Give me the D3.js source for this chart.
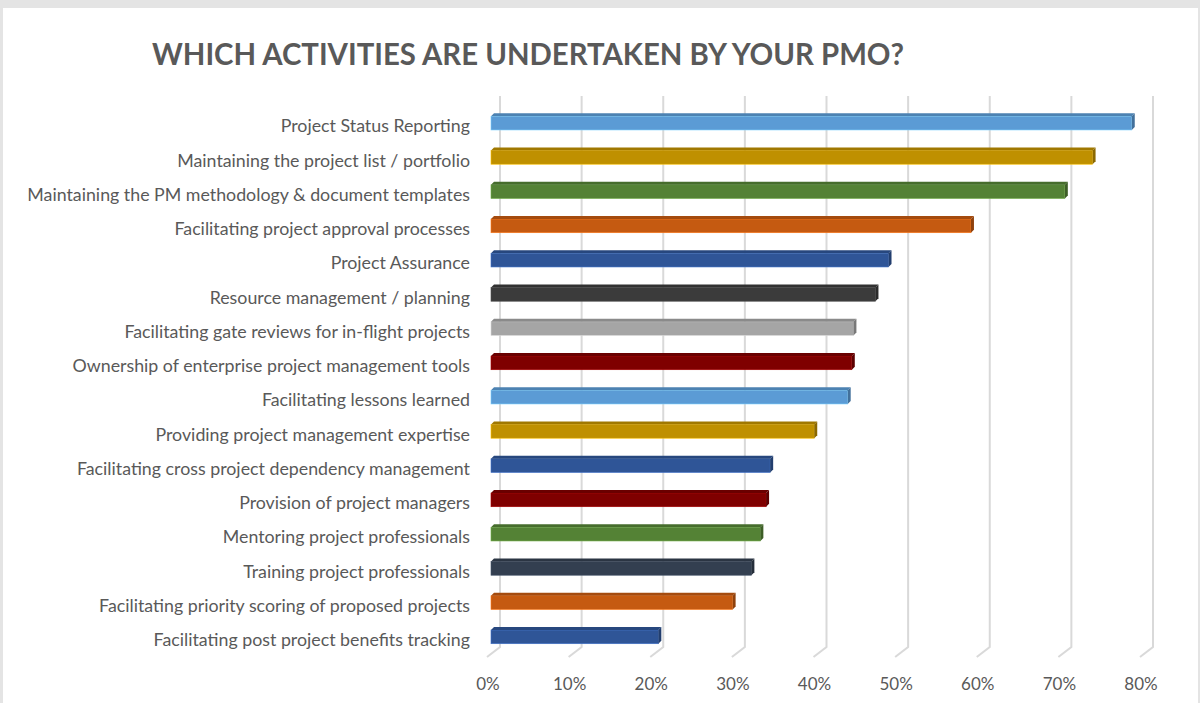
<!DOCTYPE html>
<html>
<head>
<meta charset="utf-8">
<script src="https://cdn.jsdelivr.net/npm/d3@7"></script>
<style>
  body { margin: 0; background: #e4e4e4; }
  svg { display: block; }
</style>
</head>
<body>
<svg id="chart" width="1200" height="703"></svg>
<script>
const categories = [
  'Project Status Reporting',
  'Maintaining the project list / portfolio',
  'Maintaining the PM methodology & document templates',
  'Facilitating project approval processes',
  'Project Assurance',
  'Resource management / planning',
  'Facilitating gate reviews for in-flight projects',
  'Ownership of enterprise project management tools',
  'Facilitating lessons learned',
  'Providing project management expertise',
  'Facilitating cross project dependency management',
  'Provision of project managers',
  'Mentoring project professionals',
  'Training project professionals',
  'Facilitating priority scoring of proposed projects',
  'Facilitating post project benefits tracking'
];
const values = [78.5, 73.7, 70.3, 58.8, 48.7, 47.1, 44.4, 44.2, 43.7, 39.6, 34.2, 33.7, 33.0, 31.9, 29.6, 20.5];
const ticks = [0, 10, 20, 30, 40, 50, 60, 70, 80];
const palette = ['#5b9bd5', '#bf9000', '#548235', '#c55a11', '#2f5597', '#3b3b3b', '#a5a5a5', '#7f0000',
                 '#5b9bd5', '#bf9000', '#2f5597', '#7f0000', '#548235', '#333f50', '#c55a11', '#2f5597'];

const svg = d3.select('#chart');
const font = 'Lato, "Open Sans", sans-serif';

// white chart area inside the grey frame
svg.append('rect').attr('x', 3).attr('y', 8).attr('width', 1195).attr('height', 695).attr('fill', '#ffffff');

svg.append('text')
    .attr('x', 152).attr('y', 65)
    .attr('textLength', 752).attr('lengthAdjust', 'spacingAndGlyphs')
    .style('font-family', font).style('font-weight', 'bold').style('font-size', '30px')
    .style('fill', '#595959')
    .text('WHICH ACTIVITIES ARE UNDERTAKEN BY YOUR PMO?');

// front plane scale; the back wall sits up and to the right
var x = d3.scaleLinear().domain([0, 80]).range([488, 1141]);
var depthX = 12, depthY = 10;
var y = d3.scaleBand().domain(categories).range([106, 654]).paddingInner(0.6).paddingOuter(0.3);

var wallTop = 96, wallBottom = 647;

// gridlines: vertical on back wall, then slanting to the front floor
svg.append('g').selectAll('path')
    .data(ticks)
    .join('path')
    .attr('d', function (t) {
        var bx = x(t) + depthX;
        return 'M' + bx + ',' + wallTop + 'L' + bx + ',' + wallBottom + 'L' + (x(t) - 1) + ',' + (wallBottom + depthY);
    })
    .attr('fill', 'none')
    .style('stroke', '#d9d9d9')
    .attr('stroke-width', 2);

// tick labels
svg.append('g').selectAll('text')
    .data(ticks)
    .join('text')
    .attr('x', function (t) { return x(t); })
    .attr('y', 684)
    .attr('dy', '0.35em')
    .attr('text-anchor', 'middle')
    .style('font-family', font).style('font-size', '17px')
    .style('fill', '#595959')
    .text(function (t) { return t + '%'; });

// category labels
svg.append('g').selectAll('text')
    .data(categories)
    .join('text')
    .attr('x', 470)
    .attr('y', function (c) { return y(c) + y.bandwidth() / 2 + 3; })
    .attr('dy', '0.35em')
    .attr('text-anchor', 'end')
    .style('font-family', font).style('font-size', '17.8px')
    .style('fill', '#595959')
    .text(function (c) { return c; });

// 3d bars: front face, top face, right side
var bx = 3, bd = 3;
var bars = svg.append('g').selectAll('g')
    .data(values)
    .join('g');

bars.append('rect')
    .attr('x', x(0) + bx)
    .attr('y', function (v, i) { return y(categories[i]); })
    .attr('width', function (v) { return x(v) - x(0); })
    .attr('height', y.bandwidth())
    .style('fill', function (v, i) { return palette[i]; })
    .style('stroke', function (v, i) { return d3.color(palette[i]).brighter(0.8); })
    .attr('stroke-width', 0.6);

bars.append('path')
    .attr('d', function (v, i) {
        var x0 = x(0) + bx, x1 = x(v) + bx, yt = y(categories[i]);
        return 'M' + x0 + ',' + yt + 'L' + x1 + ',' + yt + 'L' + (x1 + bd) + ',' + (yt - bd) + 'L' + (x0 + bd) + ',' + (yt - bd) + 'Z';
    })
    .style('fill', function (v, i) { return d3.color(palette[i]).darker(0.5); });

bars.append('path')
    .attr('d', function (v, i) {
        var x1 = x(v) + bx, yt = y(categories[i]), yb = yt + y.bandwidth();
        return 'M' + x1 + ',' + yt + 'L' + (x1 + bd) + ',' + (yt - bd) + 'L' + (x1 + bd) + ',' + (yb - bd) + 'L' + x1 + ',' + yb + 'Z';
    })
    .style('fill', function (v, i) { return d3.color(palette[i]).darker(0.9); });
</script>
</body>
</html>
